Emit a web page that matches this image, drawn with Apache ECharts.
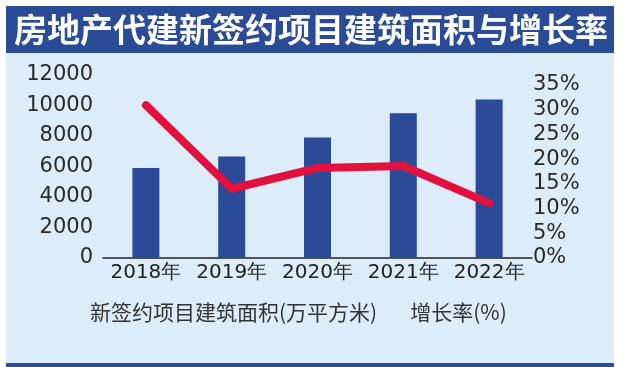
<!DOCTYPE html>
<html>
<head>
<meta charset="utf-8">
<script src="https://cdn.jsdelivr.net/npm/echarts@6/dist/echarts.min.js"></script>
<style>html,body{margin:0;padding:0;background:#fff;}#c{width:622px;height:367px;}</style>
</head>
<body>
<div id="c"></div>
<script>
const titleText = '房地产代建新签约项目建筑面积与增长率';
const categories = ['2018年', '2019年', '2020年', '2021年', '2022年'];
const areaValues = [5900, 6650, 7900, 9500, 10400];
const growthValues = [30.9, 14.0, 18.2, 18.6, 11.1];
const areaName = '新签约项目建筑面积(万平方米)';
const growthName = '增长率(%)';

const chart = echarts.init(document.getElementById('c'), null, {renderer: 'canvas'});
chart.setOption({
  backgroundColor: '#ffffff',
  animation: false,
  graphic: [
    {type: 'rect', z: -10, silent: true, shape: {x: 6, y: 6, width: 608, height: 361}, style: {fill: '#dcecf9'}},
    {type: 'rect', z: -9, silent: true, shape: {x: 6, y: 6, width: 608, height: 47}, style: {fill: '#2a4b96'}},
    {type: 'rect', z: -9, silent: true, shape: {x: 6, y: 363, width: 608, height: 4}, style: {fill: '#2a4b96'}}
  ],
  title: {
    text: titleText,
    left: 'center',
    top: 13,
    padding: 0,
    textStyle: {color: '#ffffff', fontSize: 33, fontWeight: 'bold', fontFamily: 'Noto Sans CJK SC'}
  },
  legend: {
    data: [areaName, growthName],
    icon: 'none',
    itemWidth: 0,
    itemHeight: 20,
    itemGap: 28,
    left: 85,
    top: 302,
    padding: 0,
    selectedMode: false,
    textStyle: {color: '#333333', fontSize: 21, fontFamily: 'Noto Sans CJK SC'}
  },
  grid: {left: 103, right: 90, top: 75, bottom: 109, containLabel: false},
  xAxis: {
    type: 'category',
    data: categories,
    axisLine: {lineStyle: {color: '#222222', width: 1.5}},
    axisTick: {show: false},
    axisLabel: {color: '#222222', fontSize: 20, fontFamily: 'DejaVu Sans', margin: 5, interval: 0}
  },
  yAxis: [
    {
      type: 'value', min: 0, max: 12000, interval: 2000,
      axisLine: {show: false}, axisTick: {show: false}, splitLine: {show: false},
      axisLabel: {color: '#2a2a2a', fontSize: 21, fontFamily: 'DejaVu Sans', margin: 10,
        formatter: v => String(v)}
    },
    {
      type: 'value', min: 0, max: 37, interval: 5, position: 'right',
      axisLine: {show: false}, axisTick: {show: false}, splitLine: {show: false},
      axisLabel: {color: '#2a2a2a', fontSize: 21, fontFamily: 'DejaVu Sans', margin: 1, showMaxLabel: false,
        formatter: v => (v % 5 === 0 ? v + '%' : '')}
    }
  ],
  series: [
    {
      name: areaName, type: 'bar', data: areaValues, yAxisIndex: 0,
      barWidth: 27, itemStyle: {color: '#2b4a98'}, z: 2
    },
    {
      name: growthName, type: 'line', data: growthValues, yAxisIndex: 1,
      symbol: 'none', z: 3,
      lineStyle: {color: '#e2123f', width: 8, cap: 'round', join: 'round'},
      itemStyle: {color: '#e2123f'}
    }
  ]
});
</script>
</body>
</html>
